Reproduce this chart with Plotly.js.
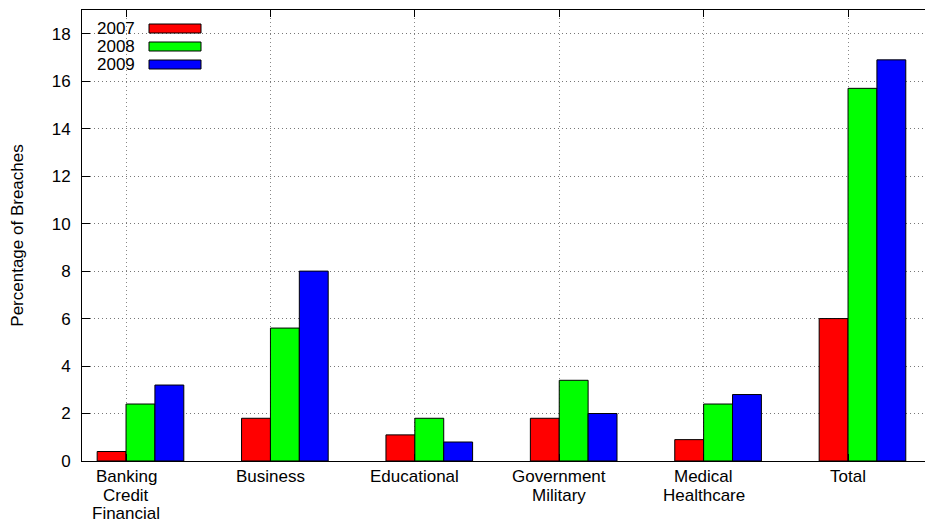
<!DOCTYPE html>
<html>
<head>
<meta charset="utf-8">
<script src="https://cdn.plot.ly/plotly-3.0.1.min.js"></script>
<style>html,body{margin:0;padding:0;background:#fff;}#chart{width:925px;height:523px;}</style>
</head>
<body>
<div id="chart"></div>
<script>
var categories = ["Banking\nCredit\nFinancial", "Business", "Educational", "Government\nMilitary", "Medical\nHealthcare", "Total"];
var years = ["2007", "2008", "2009"];
var v2007 = [0.4, 1.8, 1.1, 1.8, 0.9, 6.0];
var v2008 = [2.4, 5.6, 1.8, 3.4, 2.4, 15.7];
var v2009 = [3.2, 8.0, 0.8, 2.0, 2.8, 16.9];
var colors = ["#ff0000", "#00ff00", "#0000ff"];
var yTicks = [0, 2, 4, 6, 8, 10, 12, 14, 16, 18];

var series = [v2007, v2008, v2009];
var offsets = [-0.2, 0, 0.2];
var xs = categories.map(function(_, i){ return i; });
var font = "Liberation Sans, Arial, sans-serif";

var traces = series.map(function(vals, k){
  return {
    type: "bar", name: years[k], x: xs, y: vals,
    width: 0.2, offset: offsets[k],
    marker: {color: colors[k], line: {color: "#000", width: 1}},
    showlegend: false, hoverinfo: "skip"
  };
});

// plot box in pixels (for the gnuplot-style key)
var L = 82, R = 925, T = 10, B = 461;
function px(x){ return (x - L) / (R - L); }
function py(y){ return (B - y) / (B - T); }

var shapes = [{type: "rect", xref: "paper", yref: "paper", layer: "below",
  x0: px(83), x1: px(211), y0: py(71), y1: py(17), fillcolor: "#fff", line: {width: 0}}];
var annotations = [];
years.forEach(function(yr, k){
  var cy = 28.5 + 18 * k;
  shapes.push({type: "rect", xref: "paper", yref: "paper", layer: "above",
    x0: px(149), x1: px(201), y0: py(cy + 4.5), y1: py(cy - 4.5),
    fillcolor: colors[k], line: {color: "#000", width: 1}});
  annotations.push({xref: "paper", yref: "paper", x: px(95), y: py(cy),
    xanchor: "left", yanchor: "middle", text: yr, showarrow: false,
    font: {family: font, size: 17, color: "#000"}});
});

// category labels (gnuplot-like tight line spacing), one line per annotation
categories.forEach(function(lbl, i){
  lbl.split("\n").forEach(function(line, j){
    annotations.push({xref: "x", yref: "paper", x: i, y: 0,
      xanchor: "center", yanchor: "top", yshift: -5 - 18.5 * j,
      text: line, showarrow: false, borderpad: 0,
      font: {family: font, size: 17, color: "#000"}});
  });
});

var layout = {
  width: 925, height: 523,
  margin: {l: 82, r: 0, t: 10, b: 62, pad: 0},
  paper_bgcolor: "#fff", plot_bgcolor: "#fff",
  font: {family: font, size: 17, color: "#000"},
  barmode: "overlay",
  xaxis: {
    range: [-0.305, 5.533], tickmode: "array", tickvals: xs,
    ticktext: xs.map(function(){ return ""; }),
    showgrid: true, gridcolor: "#888", griddash: "1px,3px", gridwidth: 1,
    showline: true, linecolor: "#000", linewidth: 1, mirror: "ticks",
    ticks: "inside", ticklen: 7, tickcolor: "#000", zeroline: false
  },
  yaxis: {
    range: [0, 19], tickmode: "array", tickvals: yTicks,
    showgrid: true, gridcolor: "#777", griddash: "1px,3px", gridwidth: 1,
    showline: true, linecolor: "#000", linewidth: 1, mirror: false,
    ticks: "inside", ticklen: 8, tickcolor: "#000", zeroline: false,
    ticklabelstandoff: 7,
    tickfont: {family: font, size: 17, color: "#000"},
    title: {text: "Percentage of Breaches", font: {family: font, size: 17, color: "#000"}, standoff: 23}
  },
  shapes: shapes,
  annotations: annotations
};

Plotly.newPlot("chart", traces, layout, {displayModeBar: false, staticPlot: true});
</script>
</body>
</html>
